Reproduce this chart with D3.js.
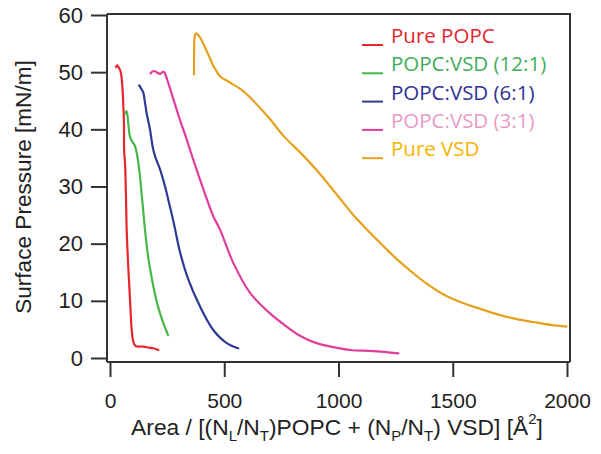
<!DOCTYPE html>
<html>
<head>
<meta charset="utf-8">
<script src="https://cdn.jsdelivr.net/npm/d3@7"></script>
<style>
  html, body { margin: 0; padding: 0; background: #fff; }
  svg { display: block; }
</style>
</head>
<body>
<svg id="chart" width="601" height="454"></svg>
<script>
// ---------- DATA ----------
const seriesNames = ["Pure POPC", "POPC:VSD (12:1)", "POPC:VSD (6:1)", "POPC:VSD (3:1)", "Pure VSD"];

const popcArea = [26, 32, 38, 44, 49, 52, 55, 58, 61, 62, 66, 70, 73, 79, 87, 95, 100, 106, 112, 125, 145, 170, 190, 211];
const popcPressure = [50.9, 51.2, 50.8, 50.4, 49.6, 48.5, 47.0, 44.4, 41.5, 36.2, 33.9, 28.0, 22.5, 16.7, 10.7, 4.9, 3.2, 2.4, 2.1, 2.0, 2.0, 1.8, 1.7, 1.4];

const mix12Area = [69, 72, 76, 80, 87, 95, 109, 124, 139, 153, 166, 184, 206, 228, 241, 254];
const mix12Pressure = [42.8, 43.2, 42.6, 41.0, 38.8, 38.0, 37.1, 34.2, 28.5, 22.5, 18.0, 13.7, 9.6, 6.7, 5.3, 4.0];

const mix6Area = [128, 134, 140, 146, 153, 160, 175, 186, 197, 219, 241, 255, 270, 284, 306, 343, 394, 452, 511, 561];
const mix6Pressure = [47.7, 47.3, 46.9, 46.4, 44.7, 42.9, 40.0, 37.1, 35.3, 33.0, 30.0, 27.7, 25.2, 22.7, 18.6, 13.7, 9.0, 4.9, 2.6, 1.7];

const mix3Area = [178, 190, 204, 212, 220, 230, 238, 244, 260, 277, 305, 336, 365, 394, 452, 481, 540, 613, 700, 773, 831, 904, 977, 1050, 1152, 1262];
const mix3Pressure = [49.8, 50.2, 50.0, 49.8, 49.7, 50.0, 50.0, 49.4, 47.5, 45.3, 41.8, 38.2, 34.6, 31.2, 24.8, 22.5, 16.6, 11.4, 7.8, 5.5, 3.9, 2.6, 1.9, 1.4, 1.2, 0.8];

const vsdArea = [368, 368, 371, 376, 383, 394, 408, 423, 438, 452, 466, 481, 525, 583, 627, 700, 758, 846, 919, 992, 1065, 1138, 1211, 1255, 1310, 1386, 1460, 1532, 1620, 1707, 1780, 1852, 1930, 1998];
const vsdPressure = [49.6, 53.0, 56.4, 56.8, 56.6, 56.1, 55.0, 53.7, 52.4, 51.1, 50.2, 49.3, 48.2, 46.7, 45.0, 41.8, 38.9, 35.4, 32.2, 28.6, 25.0, 21.9, 19.0, 17.3, 15.4, 13.0, 11.1, 9.8, 8.6, 7.5, 6.8, 6.3, 5.8, 5.5];

const xTicks = [0, 500, 1000, 1500, 2000];
const yTicks = [0, 10, 20, 30, 40, 50, 60];

const lineColors = ["#e8262c", "#45b649", "#2d3a94", "#e23d9c", "#e6a11c"];
const legendTextColors = ["#e5262d", "#3fae5a", "#2e3192", "#e89bc6", "#f5b400"];

// ---------- CHART ----------
const svg = d3.select("#chart");
const axisColor = "#333";
const tickFont = "'Liberation Sans', Arial, Helvetica, sans-serif";

const x = d3.scaleLinear().domain([0, 2000]).range([110, 567]);
const y = d3.scaleLinear().domain([0, 60]).range([358, 15]);

const frameLeft = 107, frameRight = 570, frameTop = 14, xAxisY = 362;

// frame (top and right)
svg.append("path")
  .attr("d", `M${frameLeft},${frameTop}H${frameRight}V${xAxisY}`)
  .attr("fill", "none").attr("stroke", axisColor).attr("stroke-width", 2);

// y axis
const yAxisG = svg.append("g").attr("transform", `translate(${frameLeft},0)`)
  .call(d3.axisLeft(y).tickValues(yTicks).tickSize(16).tickPadding(8).tickFormat(d3.format("d")));
yAxisG.select(".domain").remove();
yAxisG.append("line").attr("x1", 0).attr("x2", 0).attr("y1", frameTop).attr("y2", xAxisY)
  .attr("stroke", axisColor).attr("stroke-width", 2);
yAxisG.selectAll(".tick line").attr("stroke", axisColor).attr("stroke-width", 2);
yAxisG.selectAll(".tick text").attr("fill", "#222").style("font-family", tickFont).style("font-size", "22px");

// x axis
const xAxisG = svg.append("g").attr("transform", `translate(0,${xAxisY})`)
  .call(d3.axisBottom(x).tickValues(xTicks).tickSize(15).tickPadding(16).tickFormat(d3.format("d")));
xAxisG.select(".domain").remove();
xAxisG.append("line").attr("x1", frameLeft).attr("x2", frameRight).attr("y1", 0).attr("y2", 0)
  .attr("stroke", axisColor).attr("stroke-width", 2);
xAxisG.selectAll(".tick line").attr("stroke", axisColor).attr("stroke-width", 2);
xAxisG.selectAll(".tick text").attr("fill", "#222").style("font-family", tickFont).style("font-size", "21px");

// series
const series = [
  [popcArea, popcPressure],
  [mix12Area, mix12Pressure],
  [mix6Area, mix6Pressure],
  [mix3Area, mix3Pressure],
  [vsdArea, vsdPressure]
];
const line = d3.line().x(d => x(d[0])).y(d => y(d[1])).curve(d3.curveCatmullRom.alpha(0.5));
series.forEach(([ax, pr], i) => {
  const pts = ax.map((a, k) => [a, pr[k]]);
  svg.append("path").datum(pts)
    .attr("d", line)
    .attr("fill", "none")
    .attr("stroke", lineColors[i])
    .attr("stroke-width", 2.2)
    .attr("stroke-linejoin", "round")
    .attr("stroke-linecap", "round");
});

// legend
const legend = svg.append("g");
seriesNames.forEach((name, i) => {
  const ly = 45 + i * 28.3;
  legend.append("line").attr("x1", 362).attr("x2", 383).attr("y1", ly).attr("y2", ly)
    .attr("stroke", lineColors[i]).attr("stroke-width", 2);
  legend.append("text").attr("x", 391).attr("y", ly - 2)
    .attr("fill", legendTextColors[i])
    .style("font-family", "'Open Sans', sans-serif")
    .style("font-size", "20.5px")
    .text(name);
});

// x title
const xt = svg.append("text").attr("x", 337).attr("y", 435).attr("text-anchor", "middle")
  .attr("fill", "#222").style("font-family", tickFont).style("font-size", "22.8px");
const parts = [
  ["Area / [(N", 0], ["L", 1], ["/N", 0], ["T", 1], [")POPC + (N", 0], ["P", 1], ["/N", 0], ["T", 1],
  [") VSD] [Å", 0], ["2", 2], ["]", 0]
];
let prevShift = 0;
parts.forEach(([t, kind]) => {
  const shift = kind === 1 ? 6 : kind === 2 ? -11 : 0;
  const ts = xt.append("tspan").text(t).attr("dy", shift - prevShift);
  if (kind) ts.style("font-size", "15px");
  prevShift = shift;
});

// y title
svg.append("text")
  .attr("transform", "translate(31,187) rotate(-90)")
  .attr("text-anchor", "middle")
  .attr("fill", "#222")
  .style("font-family", tickFont).style("font-size", "22.6px")
  .text("Surface Pressure [mN/m]");
</script>
</body>
</html>
